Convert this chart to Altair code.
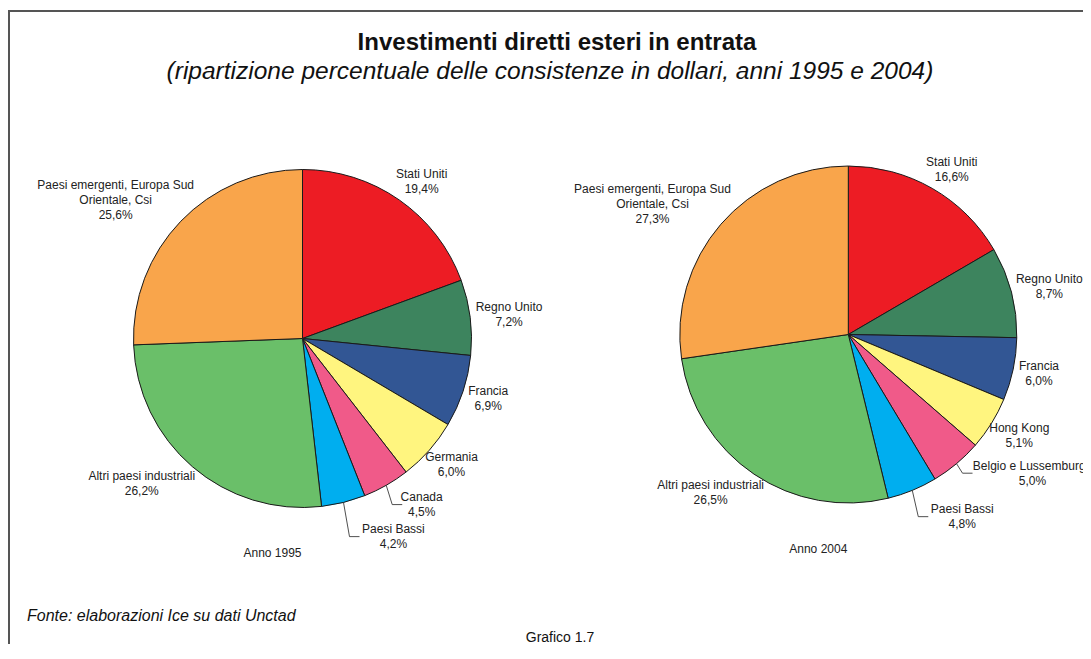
import altair as alt
import pandas as pd

YEARS = [1995, 2004]
NAMES_1995 = ["Stati Uniti", "Regno Unito", "Francia", "Germania", "Canada",
              "Paesi Bassi", "Altri paesi industriali",
              "Paesi emergenti, Europa Sud\nOrientale, Csi"]
VALUES_1995 = [19.4, 7.2, 6.9, 6.0, 4.5, 4.2, 26.2, 25.6]
NAMES_2004 = ["Stati Uniti", "Regno Unito", "Francia", "Hong Kong",
              "Belgio e Lussemburgo", "Paesi Bassi", "Altri paesi industriali",
              "Paesi emergenti, Europa Sud\nOrientale, Csi"]
VALUES_2004 = [16.6, 8.7, 6.0, 5.1, 5.0, 4.8, 26.5, 27.3]
COLORS = ["#ED1C24", "#3D845E", "#325694", "#FFF57F",
          "#F05A89", "#00AEEF", "#6ABF69", "#F9A54B"]

TITLE = "Investimenti diretti esteri in entrata"
SUBTITLE = "(ripartizione percentuale delle consistenze in dollari, anni 1995 e 2004)"
SOURCE = "Fonte: elaborazioni Ice su dati Unctad"
CAPTION = "Grafico 1.7"

FONT = "Liberation Sans"
W, H = 1075, 636
LH = 15
GAP = 4

rows = []
for year, names, values in [(1995, NAMES_1995, VALUES_1995), (2004, NAMES_2004, VALUES_2004)]:
    for i, (n, v) in enumerate(zip(names, values)):
        rows.append({"year": year, "idx": i, "name": n, "value": v})
df = pd.DataFrame(rows)

color = alt.Color("idx:O", scale=alt.Scale(domain=list(range(8)), range=COLORS), legend=None)


def pie(year, cx, cy, R):
    base = (
        alt.Chart(df)
        .transform_filter(alt.datum.year == year)
        .transform_window(cum="sum(value)", sort=[alt.SortField("idx")], frame=[None, 0])
        .transform_calculate(a0="(datum.cum - datum.value) / 100 * 2 * PI")
        .transform_calculate(a1="datum.cum / 100 * 2 * PI")
        .transform_calculate(am="(datum.a0 + datum.a1) / 2")
        .transform_calculate(deg="datum.am * 180 / PI")
    )
    arcs = base.mark_arc(radius=R, stroke="#1a1a1a", strokeWidth=1).encode(
        theta=alt.Theta("a0:Q", scale=None),
        theta2="a1:Q",
        color=color,
        x=alt.value(cx),
        y=alt.value(cy),
    )
    geo = (
        base
        .transform_calculate(lines="split(datum.name, '\\n')")
        .transform_calculate(hw="length(datum.lines[0]) * 3.2")
        .transform_calculate(nl="length(datum.lines) + 1")
        .transform_calculate(hh="datum.nl * 9")
        .transform_calculate(leader="datum.deg >= 135 && datum.deg < 180")
        .transform_calculate(px=f"{cx} + {R} * sin(datum.am)")
        .transform_calculate(py=f"{cy} - {R} * cos(datum.am)")
        .transform_calculate(qx="datum.px + 6")
        .transform_calculate(qy="datum.py + (datum.deg - 130) * 0.95")
        .transform_calculate(hx="datum.qx + 10")
        .transform_calculate(
            lx=f"datum.leader ? datum.qx + 12 + length(datum.lines[0]) * 2.9 : {cx} + {R + GAP} * sin(datum.am) + sin(datum.am) * datum.hw"
        )
        .transform_calculate(
            lc=f"datum.leader ? datum.qy : {cy} - {R + GAP} * cos(datum.am) - cos(datum.am) * datum.hh"
        )
        .transform_calculate(ly=f"datum.lc - (datum.nl - 1) * {LH / 2}")
        .transform_calculate(
            label="datum.name + '\\n' + replace(format(datum.value, '.1f'), '.', ',') + '%'"
        )
    )
    labels = geo.mark_text(
        lineBreak="\n", align="center", baseline="middle", fontSize=12,
        lineHeight=LH, font=FONT, color="#222222"
    ).encode(
        x=alt.X("lx:Q", scale=None, axis=None),
        y=alt.Y("ly:Q", scale=None, axis=None),
        text="label:N",
    )
    lead = geo.transform_filter("datum.leader")
    seg1 = lead.mark_rule(color="#222222", strokeWidth=0.8).encode(
        x=alt.X("px:Q", scale=None, axis=None), y=alt.Y("py:Q", scale=None, axis=None),
        x2="qx:Q", y2="qy:Q",
    )
    seg2 = lead.mark_rule(color="#222222", strokeWidth=0.8).encode(
        x=alt.X("qx:Q", scale=None, axis=None), y=alt.Y("qy:Q", scale=None, axis=None),
        x2="hx:Q", y2="qy:Q",
    )
    anno = alt.Chart(pd.DataFrame({"t": [f"Anno {year}"]})).mark_text(
        fontSize=12, font=FONT, color="#222222", align="center", baseline="middle"
    ).encode(text="t:N", x=alt.value(cx - 30), y=alt.value(cy + 214))
    return [arcs, seg1, seg2, labels, anno]


def txt(t, x, y, size, **kw):
    return alt.Chart(pd.DataFrame({"t": [t]})).mark_text(
        fontSize=size, font=FONT, color="#111111", baseline="middle", **kw
    ).encode(text="t:N", x=alt.value(x), y=alt.value(y))


frame_top = alt.Chart(pd.DataFrame({"a": [0]})).mark_rule(color="#555555", strokeWidth=2).encode(
    x=alt.value(0), x2=alt.value(W), y=alt.value(3)
)
frame_left = alt.Chart(pd.DataFrame({"a": [0]})).mark_rule(color="#555555", strokeWidth=2).encode(
    x=alt.value(1), y=alt.value(2), y2=alt.value(H)
)

layers = [frame_top, frame_left]
layers += pie(1995, 294.5, 330.5, 169)
layers += pie(2004, 840.3, 326.5, 168.5)
layers += [
    txt(TITLE, 549, 35, 24, fontWeight="bold", align="center"),
    txt(SUBTITLE, 542, 64, 24.5, fontStyle="italic", align="center"),
    txt(SOURCE, 19, 608, 16, fontStyle="italic", align="left"),
    txt(CAPTION, 552, 630, 14, align="center"),
]

chart = alt.layer(*layers).properties(
    width=W, height=H, padding=0, autosize=alt.AutoSizeParams(type="none"),
    background="white",
).configure_view(stroke=None)

chart.save("out.html", embed_options={"renderer": "svg", "actions": False})
